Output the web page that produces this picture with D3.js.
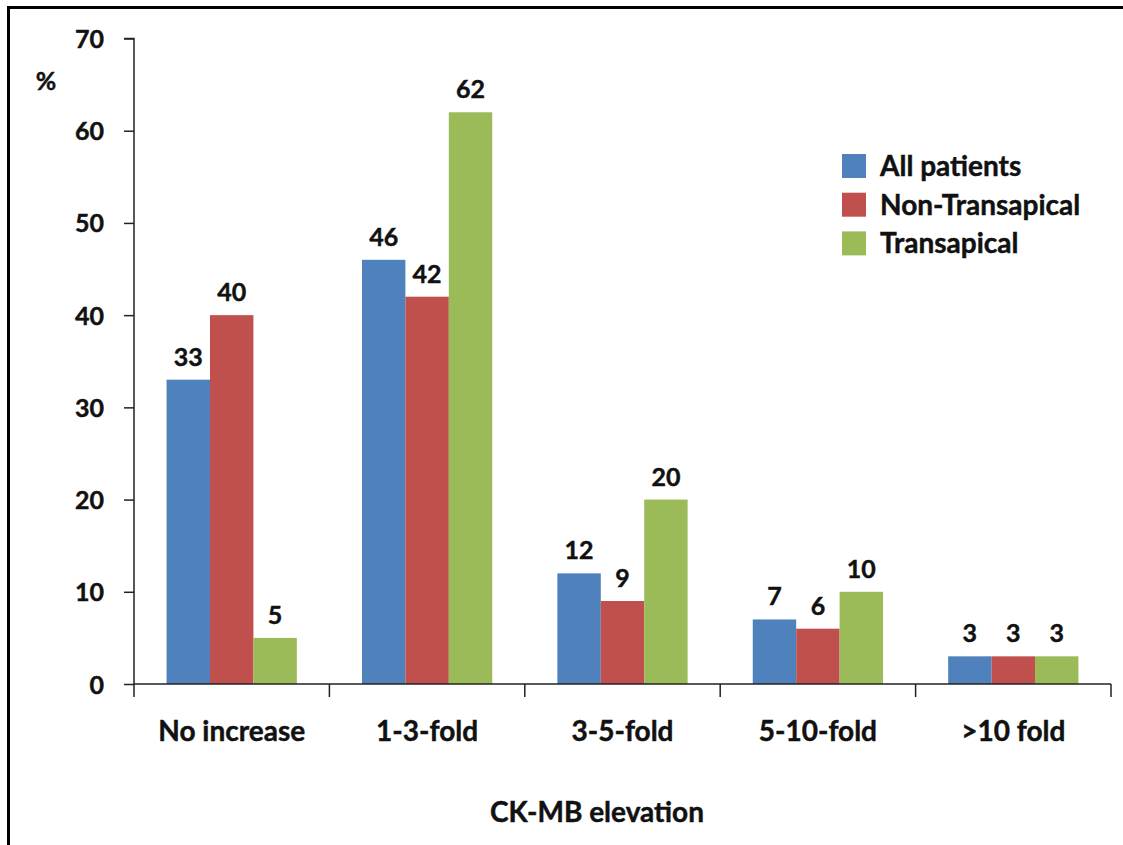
<!DOCTYPE html>
<html>
<head>
<meta charset="utf-8">
<script src="https://cdn.jsdelivr.net/npm/d3@7"></script>
<style>
  html, body { margin: 0; padding: 0; background: #fff; }
  svg { display: block; }
  text { font-family: Lato, "Open Sans", sans-serif; font-weight: bold; fill: #111; stroke: #111; stroke-width: 0.45px; }
</style>
</head>
<body>
<svg id="chart" width="1123" height="845"></svg>
<script>
// CK-MB elevation after the procedure, share of patients per group (%)
const categories = ["No increase", "1-3-fold", "3-5-fold", "5-10-fold", ">10 fold"];
const seriesNames = ["All patients", "Non-Transapical", "Transapical"];
const allPatients = [33, 46, 12, 7, 3];
const nonTransapical = [40, 42, 9, 6, 3];
const transapical = [5, 62, 20, 10, 3];
const yTicks = [0, 10, 20, 30, 40, 50, 60, 70];
const colors = ["#4F81BD", "#C0504D", "#9BBB59"];

const seriesValues = [allPatients, nonTransapical, transapical];
const rows = categories.map((c, i) => ({
  category: c,
  values: seriesNames.map((s, j) => ({ series: s, idx: j, value: seriesValues[j][i] }))
}));

const svg = d3.select("#chart");

// outer frame
svg.append("rect")
  .attr("x", 8.5).attr("y", 7.5)
  .attr("width", 1200).attr("height", 900)
  .attr("fill", "none").attr("stroke", "#000").attr("stroke-width", 3);

const plotLeft = 134, plotRight = 1111, plotTop = 38.5, plotBottom = 684;

const x = d3.scaleBand().domain(categories).range([plotLeft, plotRight]).paddingInner(0).paddingOuter(0);
const xInner = d3.scaleBand().domain(seriesNames).range([0, x.bandwidth()]).paddingInner(0).paddingOuter(0.75);
const y = d3.scaleLinear().domain([0, 70]).range([plotBottom, plotTop]);

// bars
const groups = svg.append("g").selectAll("g")
  .data(rows).join("g")
  .attr("transform", d => `translate(${x(d.category)},0)`);

groups.selectAll("rect")
  .data(d => d.values).join("rect")
  .attr("x", d => xInner(d.series))
  .attr("y", d => y(d.value))
  .attr("width", xInner.bandwidth())
  .attr("height", d => y(0) - y(d.value))
  .attr("fill", d => colors[d.idx]);

// value labels
groups.selectAll("text.val")
  .data(d => d.values).join("text")
  .attr("class", "val")
  .attr("x", d => xInner(d.series) + xInner.bandwidth() / 2)
  .attr("y", d => y(d.value) - 14)
  .attr("text-anchor", "middle")
  .style("font-size", "25px")
  .text(d => d.value);

// y axis
const yAxis = svg.append("g")
  .attr("transform", `translate(${plotLeft},0)`)
  .call(d3.axisLeft(y).tickValues(yTicks).tickSize(10).tickPadding(20).tickFormat(d3.format("d")));
yAxis.select(".domain").attr("stroke", "#222").attr("stroke-width", 1.5).attr("d", `M-10,${plotTop}H0V${plotBottom}`);
yAxis.selectAll(".tick line").attr("stroke", "#222").attr("stroke-width", 1.5);
yAxis.selectAll(".tick text").style("font-size", "25px").attr("dy", "0.36em").attr("fill", "#111");

// x axis with boundary ticks between categories
const xAxis = svg.append("g").attr("transform", `translate(0,${plotBottom})`);
xAxis.append("line")
  .attr("x1", plotLeft).attr("x2", plotRight).attr("y1", 0).attr("y2", 0)
  .attr("stroke", "#222").attr("stroke-width", 1.5);
const boundaries = categories.map(c => x(c)).concat([x(categories[categories.length - 1]) + x.bandwidth()]);
xAxis.selectAll("line.b").data(boundaries).join("line")
  .attr("class", "b")
  .attr("x1", d => d).attr("x2", d => d).attr("y1", 0).attr("y2", 13)
  .attr("stroke", "#222").attr("stroke-width", 1.5);
xAxis.selectAll("text.cat").data(categories).join("text")
  .attr("class", "cat")
  .attr("x", d => x(d) + x.bandwidth() / 2)
  .attr("y", 57)
  .attr("text-anchor", "middle")
  .style("font-size", "28px")
  .text(d => d);

// axis titles
svg.append("text").attr("x", 46).attr("y", 90).attr("text-anchor", "middle")
  .style("font-size", "25px").text("%");
svg.append("text").attr("x", 597).attr("y", 822).attr("text-anchor", "middle")
  .style("font-size", "28px").text("CK-MB elevation");

// legend
const legend = svg.append("g").attr("transform", "translate(842,154)");
const li = legend.selectAll("g").data(seriesNames).join("g")
  .attr("transform", (d, i) => `translate(0,${i * 38.7})`);
li.append("rect").attr("width", 24).attr("height", 24).attr("fill", (d, i) => colors[i]);
li.append("text").attr("x", 38).attr("y", 22).style("font-size", "28px").text(d => d);
</script>
</body>
</html>
